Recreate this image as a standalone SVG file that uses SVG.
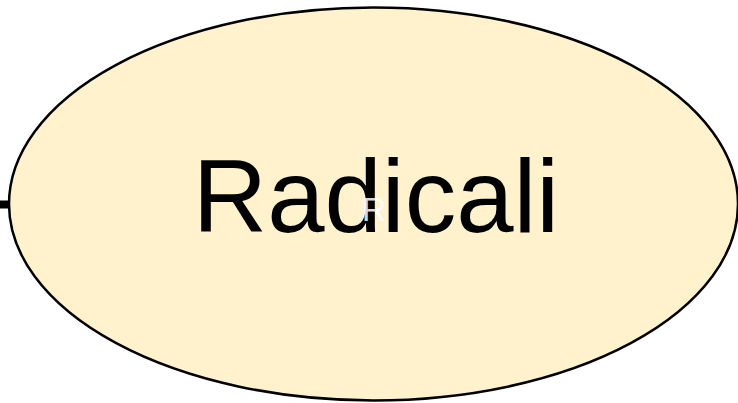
<svg xmlns="http://www.w3.org/2000/svg" width="738" height="403" viewBox="0 0 738 403">
<style>
.node{fill:#FFF2CC;stroke:#000;stroke-width:2.5}
.lbl{font-family:"Liberation Sans",Arial,sans-serif;font-size:103px;fill:#000}
.ghost{font-family:"Liberation Sans",Arial,sans-serif;font-size:34px;fill:#fff;fill-opacity:0.85}
</style>
<rect width="738" height="403" fill="#fff"/>
<g id="connectors">
<line x1="0" y1="204.5" x2="10" y2="204.5" stroke="#000" stroke-width="8"/>
</g>
<g id="radicali">
<ellipse class="node" cx="373.5" cy="204" rx="364.5" ry="196.5"/>
<text class="lbl" x="376" y="232" text-anchor="middle">Radicali</text>
<text class="ghost" x="374" y="221" text-anchor="middle">R</text>
</g>
</svg>
